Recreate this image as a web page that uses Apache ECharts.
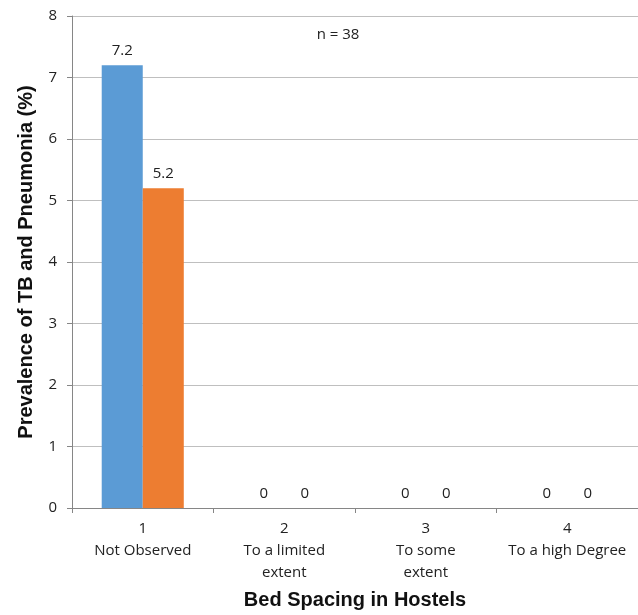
<!DOCTYPE html>
<html>
<head>
<meta charset="utf-8">
<script src="https://cdn.jsdelivr.net/npm/echarts@6/dist/echarts.min.js"></script>
<style>html,body{margin:0;padding:0;background:#fff}#c{width:638px;height:615px}</style>
</head>
<body>
<div id="c"></div>
<script>
var categories = ['1\nNot Observed', '2\nTo a limited\nextent', '3\nTo some\nextent', '4\nTo a high Degree'];
var seriesA = [7.2, 0, 0, 0];
var seriesB = [5.2, 0, 0, 0];
var yTicks = [0, 1, 2, 3, 4, 5, 6, 7, 8];
var xTitle = 'Bed Spacing in Hostels';
var yTitle = 'Prevalence of TB and Pneumonia (%)';
var note = 'n = 38';

var labelFont = '"Open Sans", sans-serif';
var titleFont = '"Liberation Sans", Arial, sans-serif';
var chart = echarts.init(document.getElementById('c'), null, {renderer: 'canvas'});
chart.setOption({
  animation: false,
  backgroundColor: '#fff',
  grid: {left: 72, right: 0, top: 16, bottom: 106},
  title: {
    text: note, left: 333, top: 22,
    textAlign: 'center',
    textStyle: {fontFamily: labelFont, fontSize: 15, fontWeight: 'normal', color: '#222'}
  },
  xAxis: {
    type: 'category',
    data: categories,
    name: xTitle,
    nameLocation: 'middle',
    nameGap: 82,
    nameTextStyle: {fontFamily: titleFont, fontWeight: 'bold', fontSize: 20, color: '#111'},
    axisLine: {lineStyle: {color: '#868686'}},
    axisTick: {show: true, length: 5, lineStyle: {color: '#868686'}},
    axisLabel: {fontFamily: labelFont, fontSize: 15, color: '#222', margin: 10, lineHeight: 22, interval: 0}
  },
  yAxis: {
    type: 'value',
    min: yTicks[0], max: yTicks[yTicks.length - 1], interval: 1,
    name: yTitle,
    nameLocation: 'middle',
    nameGap: 36,
    nameTextStyle: {fontFamily: titleFont, fontWeight: 'bold', fontSize: 20, color: '#111'},
    axisLine: {show: true, lineStyle: {color: '#868686'}},
    axisTick: {show: true, length: 5, lineStyle: {color: '#868686'}},
    splitLine: {lineStyle: {color: '#BFBFBF'}},
    axisLabel: {fontFamily: labelFont, fontSize: 15, color: '#222', margin: 15}
  },
  series: [
    {
      type: 'bar', data: seriesA, barGap: '0%', barCategoryGap: '42%',
      itemStyle: {color: '#5B9BD5'},
      label: {show: true, position: 'top', distance: 7, fontFamily: labelFont, fontSize: 15, color: '#222'}
    },
    {
      type: 'bar', data: seriesB, barGap: '0%', barCategoryGap: '42%',
      itemStyle: {color: '#ED7D31'},
      label: {show: true, position: 'top', distance: 7, fontFamily: labelFont, fontSize: 15, color: '#222'}
    }
  ]
});
</script>
</body>
</html>
